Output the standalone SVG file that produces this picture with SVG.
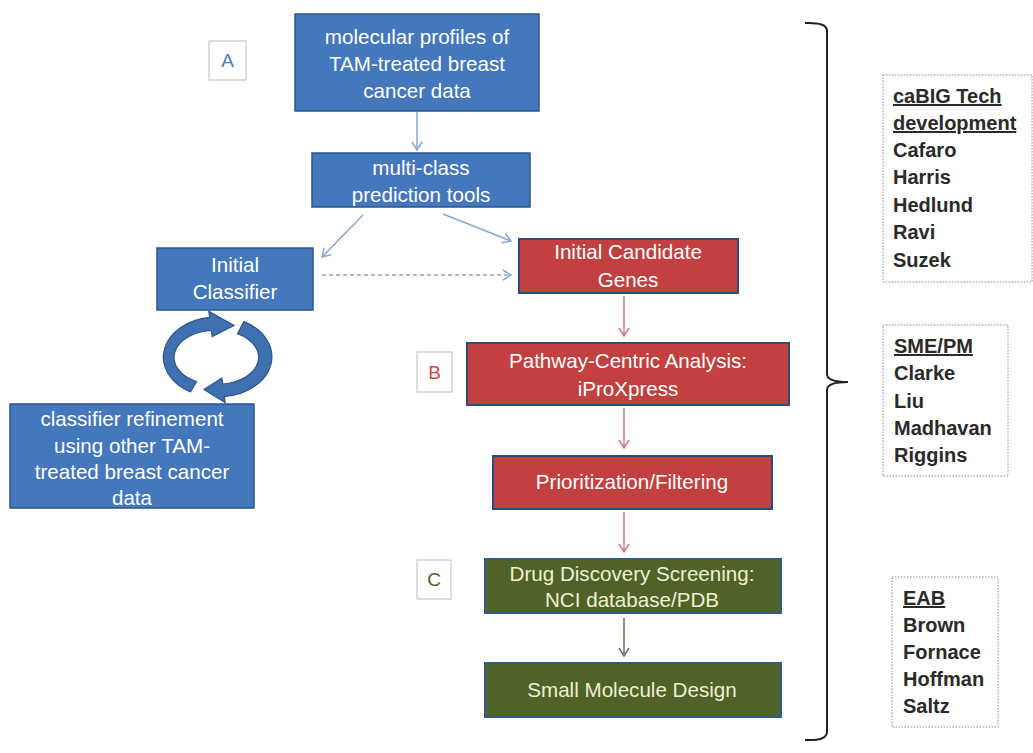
<svg xmlns="http://www.w3.org/2000/svg" width="1033" height="753" viewBox="0 0 1033 753">
  <style>
    .t { font-family: "Liberation Sans", Arial, sans-serif; font-size: 20.6px; text-anchor: middle; }
    .w { fill: #ffffff; }
    .g { fill: #eef0d2; }
    .blue { fill: #4477bb; stroke: #2e568c; stroke-width: 1.5; }
    .red { fill: #c2403f; stroke: #2f4a78; stroke-width: 2; }
    .green { fill: #4f6228; stroke: #35588a; stroke-width: 2; }
    .lab { fill: #ffffff; stroke: #c8c8c8; stroke-width: 1.2; }
    .lt { font-family: "Liberation Sans", Arial, sans-serif; font-size: 19px; text-anchor: middle; }
    .team { fill: #ffffff; stroke: #8a8a8a; stroke-width: 1; stroke-dasharray: 1.5 1.5; }
    .tt { font-family: "Liberation Sans", Arial, sans-serif; font-size: 20px; font-weight: bold; fill: #2a2a2a; }
    .cb { stroke: #8ba6d2; stroke-width: 1.5; fill: none; marker-end: url(#hb); }
    .cr { stroke: #c47a86; stroke-width: 1.5; fill: none; marker-end: url(#hr); }
    .cg { stroke: #6e6e5c; stroke-width: 1.5; fill: none; marker-end: url(#hg); }
    .cycle { fill: #3f70b2; stroke: #2c5488; stroke-width: 1.2; }
  </style>
  <defs>
    <marker id="hb" viewBox="0 0 10 12" refX="9" refY="6" markerWidth="10" markerHeight="12" markerUnits="userSpaceOnUse" orient="auto">
      <path d="M1,1 L9,6 L1,11" fill="none" stroke="#8ba6d2" stroke-width="1.5"/>
    </marker>
    <marker id="hr" viewBox="0 0 10 12" refX="9" refY="6" markerWidth="10" markerHeight="12" markerUnits="userSpaceOnUse" orient="auto">
      <path d="M1,1 L9,6 L1,11" fill="none" stroke="#c47a86" stroke-width="1.5"/>
    </marker>
    <marker id="hg" viewBox="0 0 10 12" refX="9" refY="6" markerWidth="10" markerHeight="12" markerUnits="userSpaceOnUse" orient="auto">
      <path d="M1,1 L9,6 L1,11" fill="none" stroke="#6e6e5c" stroke-width="1.5"/>
    </marker>
  </defs>

  <rect width="1033" height="753" fill="#ffffff"/>

  <!-- connectors -->
  <g id="connectors">
    <line class="cb" x1="417" y1="112" x2="417" y2="150"/>
    <line class="cb" x1="363" y1="215" x2="322" y2="257"/>
    <line class="cb" x1="443" y1="214" x2="511" y2="241"/>
    <line class="cb" x1="322" y1="275" x2="511" y2="275" stroke-dasharray="4 3"/>
    <line class="cr" x1="624" y1="296" x2="624" y2="336"/>
    <line class="cr" x1="624" y1="408" x2="624" y2="448"/>
    <line class="cr" x1="624" y1="512" x2="624" y2="552"/>
    <line class="cg" x1="624" y1="618" x2="624" y2="656"/>
    <!-- refinement cycle: two curved block arrows -->
    <path class="cycle" d="M190.5,392 A53,40 0 0 1 209.6,317.4 L208.9,311.4 L234,325.5 L212.2,336.5 L211.4,330.5 A41,27 0 0 0 196.5,381.5 Z"/>
    <path class="cycle" d="M244,321.6 A53,40 0 0 1 224.4,396.6 L225.2,402.5 L204,389.5 L221.9,378 L222.7,384 A41,27 0 0 0 237.5,333.6 Z"/>
    <!-- team brace -->
    <path d="M805,23 Q827,22 827,31 L827,374 Q827,382 848,382 Q827,382 827,390 L827,732 Q827,741 805,740" fill="none" stroke="#222222" stroke-width="2"/>
  </g>

  <g id="label-a">
    <rect class="lab" x="209" y="41" width="37" height="39"/>
    <text class="lt" x="227.5" y="67" fill="#4a7ebb">A</text>
  </g>
  <g id="label-b">
    <rect class="lab" x="417" y="352" width="35" height="40"/>
    <text class="lt" x="434.5" y="379" fill="#c0504d">B</text>
  </g>
  <g id="label-c">
    <rect class="lab" x="417" y="560" width="34" height="39"/>
    <text class="lt" x="434" y="586" fill="#4f6228">C</text>
  </g>

  <g id="molecular-profiles">
    <rect class="blue" x="295" y="14" width="244" height="97"/>
    <text class="t w" x="417" y="44">molecular profiles of</text>
    <text class="t w" x="417" y="71">TAM-treated breast</text>
    <text class="t w" x="417" y="98">cancer data</text>
  </g>
  <g id="prediction-tools">
    <rect class="blue" x="312" y="153" width="218" height="54"/>
    <text class="t w" x="421" y="175">multi-class</text>
    <text class="t w" x="421" y="202">prediction tools</text>
  </g>
  <g id="initial-classifier">
    <rect class="blue" x="157" y="248" width="156" height="62"/>
    <text class="t w" x="235" y="272">Initial</text>
    <text class="t w" x="235" y="299">Classifier</text>
  </g>
  <g id="classifier-refinement">
    <rect class="blue" x="10" y="404" width="244" height="104"/>
    <text class="t w" x="132" y="426">classifier refinement</text>
    <text class="t w" x="132" y="453">using other TAM-</text>
    <text class="t w" x="132" y="479">treated breast cancer</text>
    <text class="t w" x="132" y="505">data</text>
  </g>
  <g id="candidate-genes">
    <rect class="red" x="519" y="239" width="219" height="54"/>
    <text class="t w" x="628" y="259">Initial Candidate</text>
    <text class="t w" x="628" y="287">Genes</text>
  </g>
  <g id="pathway-analysis">
    <rect class="red" x="467" y="343" width="322" height="62"/>
    <text class="t w" x="628" y="368">Pathway-Centric Analysis:</text>
    <text class="t w" x="628" y="396">iProXpress</text>
  </g>
  <g id="prioritization">
    <rect class="red" x="493" y="456" width="279" height="53"/>
    <text class="t w" x="632" y="489">Prioritization/Filtering</text>
  </g>
  <g id="drug-screening">
    <rect class="green" x="485" y="559" width="296" height="54"/>
    <text class="t g" x="632" y="581">Drug Discovery Screening:</text>
    <text class="t g" x="632" y="607">NCI database/PDB</text>
  </g>
  <g id="molecule-design">
    <rect class="green" x="485" y="663" width="296" height="54"/>
    <text class="t g" x="632" y="697">Small Molecule  Design</text>
  </g>

  <g id="team-cabig">
    <rect class="team" x="883" y="75" width="149" height="207"/>
    <text class="tt" x="893" y="103" text-decoration="underline">caBIG Tech </text>
    <text class="tt" x="893" y="130" text-decoration="underline">development</text>
    <text class="tt" x="893" y="157">Cafaro</text>
    <text class="tt" x="893" y="184">Harris</text>
    <text class="tt" x="893" y="212">Hedlund</text>
    <text class="tt" x="893" y="239">Ravi</text>
    <text class="tt" x="893" y="267">Suzek</text>
  </g>
  <g id="team-sme">
    <rect class="team" x="883" y="325" width="125" height="151"/>
    <text class="tt" x="894" y="353" text-decoration="underline">SME/PM</text>
    <text class="tt" x="894" y="380">Clarke</text>
    <text class="tt" x="894" y="408">Liu</text>
    <text class="tt" x="894" y="435">Madhavan</text>
    <text class="tt" x="894" y="462">Riggins</text>
  </g>
  <g id="team-eab">
    <rect class="team" x="892" y="577" width="106" height="150"/>
    <text class="tt" x="903" y="605" text-decoration="underline">EAB</text>
    <text class="tt" x="903" y="632">Brown</text>
    <text class="tt" x="903" y="659">Fornace</text>
    <text class="tt" x="903" y="686">Hoffman</text>
    <text class="tt" x="903" y="713">Saltz</text>
  </g>
</svg>
